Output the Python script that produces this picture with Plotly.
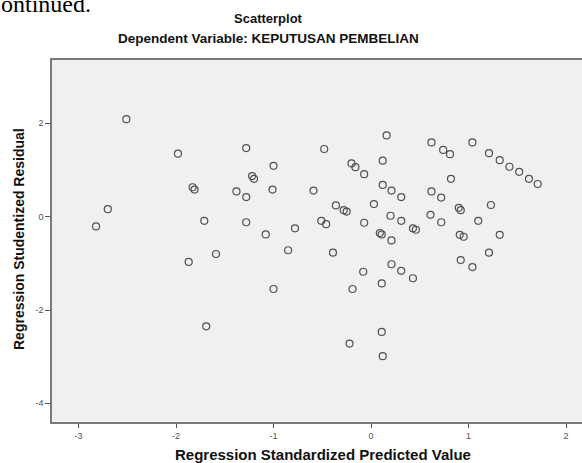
import plotly.graph_objects as go

# Regression Standardized Predicted Value
pred = [
    -2.51, -1.98, -1.83, -1.81, -2.70, -2.82, -1.71, -1.87, -1.69, -1.59,
    -1.28, -0.48, -1.00, -1.22, -1.20, -1.38, -1.01, -0.59, -1.28, -1.28,
    -0.51, -0.46, -0.78, -1.08, -0.85, -1.00, 0.16, 0.62, -0.20, -0.16,
    0.12, -0.07, 0.12, 0.21, 0.31, 0.62, -0.36, -0.28, -0.25, 0.03,
    0.20, 0.31, 0.61, -0.07, 0.09, 0.11, 0.43, 0.46, 0.21, -0.39,
    0.21, 0.31, 0.43, -0.08, 0.11, -0.19, 0.11, -0.22, 0.12, 0.74,
    0.81, 1.04, 1.21, 1.32, 1.42, 1.52, 1.62, 1.71, 0.82, 0.72,
    0.90, 0.92, 1.23, 0.72, 1.10, 0.91, 0.95, 1.32, 1.21, 0.92,
    1.04,
]
# Regression Studentized Residual
resid = [
    2.09, 1.35, 0.63, 0.58, 0.16, -0.21, -0.09, -0.97, -2.35, -0.80,
    1.47, 1.45, 1.09, 0.87, 0.81, 0.54, 0.58, 0.56, 0.42, -0.12,
    -0.09, -0.16, -0.25, -0.38, -0.72, -1.55, 1.74, 1.59, 1.14, 1.06,
    1.20, 0.91, 0.68, 0.56, 0.42, 0.54, 0.24, 0.14, 0.11, 0.27,
    0.02, -0.09, 0.04, -0.13, -0.35, -0.38, -0.25, -0.28, -0.51, -0.77,
    -1.02, -1.16, -1.32, -1.18, -1.43, -1.55, -2.47, -2.72, -2.99, 1.43,
    1.34, 1.59, 1.36, 1.21, 1.07, 0.96, 0.81, 0.70, 0.81, 0.41,
    0.19, 0.14, 0.25, -0.12, -0.09, -0.39, -0.43, -0.39, -0.77, -0.93,
    -1.08,
]

x_ticks = [-3, -2, -1, 0, 1, 2]
y_ticks = [-4, -2, 0, 2]

W, H = 582, 463
L, R, T, B = 52, 0, 60, 41
pw, ph = W - L - R, H - T - B

def px_x(p):
    return (p - L) / pw

def px_y(p):
    return (H - B - p) / ph

SANS = "Liberation Sans, Arial, sans-serif"

fig = go.Figure()
fig.add_trace(go.Scatter(
    x=pred, y=resid, mode="markers",
    marker=dict(symbol="circle-open", size=7, color="#505050",
                line=dict(width=1.2, color="#505050")),
    hoverinfo="skip", showlegend=False,
))

tick_font = dict(family=SANS, size=9, color="#505050")

fig.update_layout(
    width=W, height=H,
    margin=dict(l=L, r=R, t=T, b=B, pad=0, autoexpand=False),
    paper_bgcolor="white",
    plot_bgcolor="#f0f0f0",
    xaxis=dict(
        range=[-3.272, 2.164], tickvals=x_ticks, ticktext=[str(v) for v in x_ticks],
        showgrid=False, zeroline=False,
        showline=True, linecolor="#7a7a7a", linewidth=1.5, mirror=True,
        ticks="outside", ticklen=4, tickcolor="#555555", tickwidth=1,
        tickfont=tick_font, automargin=False,
    ),
    yaxis=dict(
        range=[-4.40, 3.357], tickvals=y_ticks, ticktext=[str(v) for v in y_ticks],
        showgrid=False, zeroline=False,
        showline=True, linecolor="#7a7a7a", linewidth=1.5,
        ticks="outside", ticklen=5, tickcolor="#555555", tickwidth=1,
        tickfont=tick_font, automargin=False,
    ),
    annotations=[
        dict(text="<b>Scatterplot</b>", xref="paper", yref="paper",
             x=px_x(268), y=px_y(19), xanchor="center", yanchor="middle",
             showarrow=False, font=dict(family=SANS, size=13, color="#111111")),
        dict(text="<b>Dependent Variable: KEPUTUSAN PEMBELIAN</b>", xref="paper", yref="paper",
             x=px_x(268), y=px_y(38), xanchor="center", yanchor="middle",
             showarrow=False, font=dict(family=SANS, size=13.5, color="#111111")),
        dict(text="<b>Regression Standardized Predicted Value</b>", xref="paper", yref="paper",
             x=px_x(323), y=px_y(454), xanchor="center", yanchor="middle",
             showarrow=False, font=dict(family=SANS, size=15, color="#111111")),
        dict(text="<b>Regression Studentized Residual</b>", xref="paper", yref="paper",
             x=px_x(19), y=px_y(239), xanchor="center", yanchor="middle", textangle=-90,
             showarrow=False, font=dict(family=SANS, size=14, color="#111111")),
        dict(text="ontinued.", xref="paper", yref="paper",
             x=px_x(-1), y=px_y(4), xanchor="left", yanchor="middle",
             showarrow=False,
             font=dict(family="Liberation Serif, Times New Roman, serif", size=24, color="#000000")),
    ],
)

fig.write_html(
    "out.html",
    config={"displayModeBar": False},
    post_script="document.body.style.margin='0';document.body.style.padding='0';",
)
